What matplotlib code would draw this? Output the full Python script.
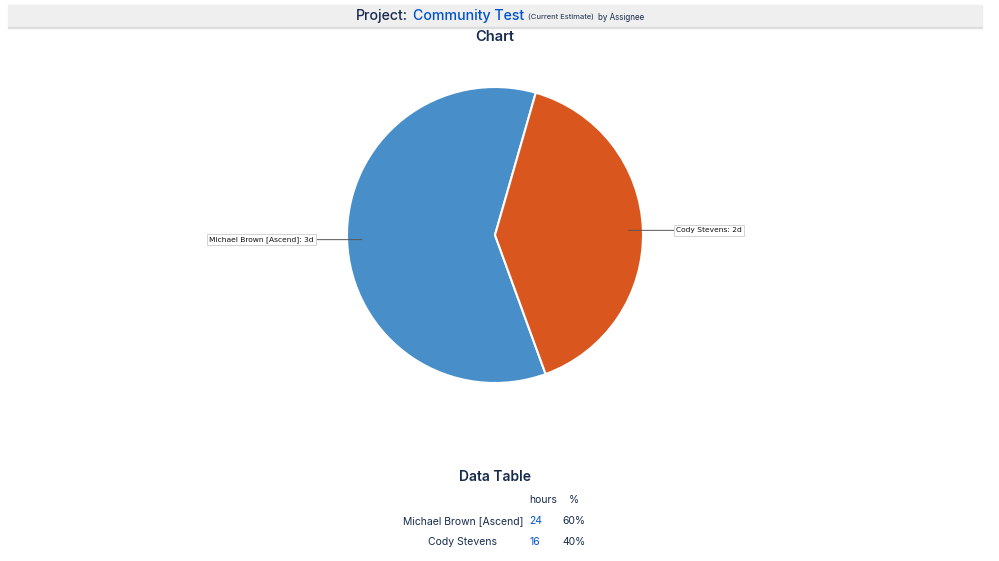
import matplotlib
matplotlib.use('Agg')

import matplotlib.pyplot as plt
import numpy as np

# ---- data ----
assignees = ["Michael Brown [Ascend]", "Cody Stevens"]
hours = [24, 16]
days_labels = ["3d", "2d"]
colors = ["#488fc9", "#d9561e"]

TEXT = "#172b4d"
LINK = "#0052cc"
W, H = 999, 561

plt.rcParams['font.family'] = ['Inter', 'DejaVu Sans']

fig = plt.figure(figsize=(W / 100, H / 100), dpi=100)


def fx(px):
    return px / W


def fy(py):
    return 1 - py / H


# ---- header bar ----
fig.patches.append(plt.Rectangle((fx(8), fy(27)), fx(974), 22 / H,
                                 transform=fig.transFigure, color="#efefef", zorder=0))
fig.patches.append(plt.Rectangle((fx(8), fy(28)), fx(974), 1.2 / H,
                                 transform=fig.transFigure, color="#dddddd", zorder=0))

t1 = fig.text(fx(356), fy(16), "Project:", fontsize=10.2, color=TEXT, va="center",
              fontweight="medium")
t2 = fig.text(0, 0, "Community Test", fontsize=10.2, color=LINK, va="center",
              fontweight="medium")
t3 = fig.text(0, 0, "(Current Estimate)", fontsize=5.5, color=TEXT, va="center")
t4 = fig.text(0, 0, "by Assignee", fontsize=5.8, color=TEXT, va="center")
fig.canvas.draw()
r = fig.canvas.get_renderer()
prev = t1
for t, gap in ((t2, 5), (t3, 4), (t4, 4)):
    bb = prev.get_window_extent(r)
    t.set_position(((bb.x1 + gap) / W, fy(16) if t is t2 else fy(17)))
    prev = t

fig.text(fx(495), fy(37), "Chart", fontsize=10.5, color=TEXT, ha="center", va="center",
         fontweight="semibold")

# ---- pie ----
cx, cy, rad = 495, 235, 148
ax = fig.add_axes([fx(cx - rad), fy(cy + rad), 2 * rad / W, 2 * rad / H])
wedges, _ = ax.pie(hours, colors=colors, startangle=74, counterclock=True,
                   wedgeprops=dict(edgecolor="white", linewidth=1.5))
ax.set_xlim(-1, 1)
ax.set_ylim(-1, 1)
ax.set_aspect("auto")
ax.axis("off")

for w, name, d in zip(wedges, assignees, days_labels):
    ang = np.deg2rad((w.theta1 + w.theta2) / 2)
    x0, y0 = 0.9 * np.cos(ang), 0.9 * np.sin(ang)
    side = np.sign(x0)
    ax.annotate(f"{name}: {d}", xy=(x0, y0), xytext=(1.225 * side, y0),
                ha="left" if side > 0 else "right", va="center",
                fontsize=5.4, family="DejaVu Sans", color="#111111",
                bbox=dict(boxstyle="square,pad=0.3", fc="white", ec="#cccccc", lw=0.6),
                arrowprops=dict(arrowstyle="-", color="#555555", lw=0.7,
                                shrinkA=0, shrinkB=0),
                annotation_clip=False)

# ---- data table ----
fig.text(fx(495), fy(477), "Data Table", fontsize=10, color=TEXT, ha="center", va="center",
         fontweight="semibold")
fig.text(fx(543), fy(500), "hours", fontsize=7.5, color=TEXT, ha="center", va="center")
fig.text(fx(574), fy(500), "%", fontsize=7.5, color=TEXT, ha="center", va="center")
total = sum(hours)
for i, (name, h) in enumerate(zip(assignees, hours)):
    y = fy(521 + 21 * i)
    fig.text(fx(463), y, name, fontsize=7.5, color=TEXT, ha="center", va="center")
    fig.text(fx(529), y, str(h), fontsize=7.5, color=LINK, ha="left", va="center")
    fig.text(fx(574), y, f"{round(100 * h / total)}%", fontsize=7.5, color=TEXT,
             ha="center", va="center")

fig.savefig("out.png", dpi=100)
